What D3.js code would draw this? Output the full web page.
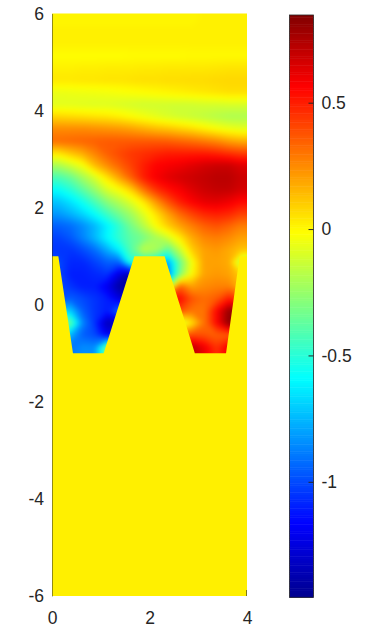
<!DOCTYPE html>
<html>
<head>
<meta charset="utf-8">
<script src="https://cdn.jsdelivr.net/npm/d3@7"></script>
<style>
  body { margin: 0; background: #fff; }
  svg { display: block; }
  text { font-family: "Liberation Sans", Arial, sans-serif; font-size: 17.5px; fill: #262626; }
</style>
</head>
<body>
<div id="chart"></div>
<script>
// field values, one row per 0.25 in y (top row y=5.875), 16 columns per 0.25 in x
// cells under the teeth just carry on from their neighbours, the teeth are painted over them
const FIELD_ROWS = [
  [.01,.01,.01,.01,.01,.01,.01,.01,.01,.01,.01,.01,.02,.02,.02,.02],
  [.02,.02,.02,.02,.02,.02,.02,.02,.02,.02,.02,.02,.02,.02,.02,.02],
  [.02,.02,.02,.02,.02,.02,.02,.02,.02,.02,.02,.02,.02,.02,.02,.02],
  [-.01,-.01,-.01,-.01,-.01,-.01,-.005,-.005,-.005,-.005,-.005,0,0,0,0,0],
  [.02,.02,.025,.025,.03,.03,.03,.035,.035,.04,.04,.04,.04,.045,.05,.05],
  [.04,.04,.045,.045,.05,.05,.055,.06,.06,.065,.065,.07,.07,.075,.08,.08],
  [-.06,-.055,-.05,-.045,-.04,-.03,-.02,-.01,0,.01,.02,.03,.04,.05,.06,.06],
  [-.08,-.08,-.085,-.09,-.09,-.1,-.11,-.12,-.12,-.12,-.12,-.12,-.11,-.11,-.1,-.1],
  [.08,.07,.06,.05,.04,.02,-.01,-.04,-.07,-.1,-.12,-.14,-.16,-.18,-.2,-.2],
  [.25,.25,.25,.24,.23,.22,.2,.17,.14,.12,.09,.06,.02,-.02,-.05,-.07],
  [.32,.33,.34,.35,.36,.36,.36,.36,.36,.35,.33,.31,.28,.25,.2,.17],
  [.05,.12,.18,.27,.35,.4,.44,.46,.48,.5,.5,.5,.5,.48,.45,.42],
  [-.2,-.12,-.03,.14,.25,.34,.42,.5,.56,.58,.6,.63,.66,.68,.68,.64],
  [-.42,-.35,-.22,-.1,.05,.2,.35,.5,.58,.63,.66,.68,.7,.72,.72,.68],
  [-.58,-.5,-.38,-.25,-.1,-.02,.1,.3,.45,.53,.58,.64,.68,.7,.7,.66],
  [-.72,-.65,-.55,-.42,-.28,-.18,-.08,.04,.22,.38,.5,.57,.62,.63,.6,.55],
  [-.82,-.76,-.68,-.58,-.45,-.33,-.22,-.08,.05,.2,.33,.42,.48,.5,.48,.42],
  [-.95,-.92,-.85,-.75,-.62,-.48,-.32,-.18,-.02,.1,.2,.28,.35,.38,.34,.28],
  [-1.02,-.97,-.87,-.75,-.6,-.48,-.38,-.32,-.22,-.12,.03,.18,.26,.28,.25,.2],
  [-1.05,-1.05,-1,-.92,-.78,-.62,-.4,-.15,-.2,-.4,-.15,.1,.2,.22,.18,.12],
  [-1,-1.08,-1.08,-1.02,-.95,-.95,-.5,-.55,-.6,-.8,-.35,-.03,.2,.2,.18,-.2],
  [-1,-1.1,-1.1,-1.08,-1.05,-1.25,-1.4,-1,-.9,-.9,-.3,0,.2,.22,.2,.1],
  [-1,-1.05,-1.1,-1.1,-1.2,-1.4,-1.4,-1.2,-.3,-.3,.35,.2,.25,.27,.27,.15],
  [-1,-.95,-1,-1.05,-1.1,-1.25,-1.3,-1,.5,.55,.55,.38,.32,.36,.5,.4],
  [-.7,-.7,-.95,-1.05,-1.1,-.9,-.9,-.9,.4,.4,.4,.3,.3,.55,.8,.8],
  [-.2,-.35,-.85,-1.05,-1.35,-1.3,-1.3,-1,0,0,-.2,.05,.3,.55,.82,.82],
  [-.7,-.75,-.95,-1,-1.2,-1.2,-1.2,-1,.3,.3,.3,.4,.38,.35,.35,.3],
  [-.9,-.9,-.85,-.85,-.3,-.3,-.3,-.3,.6,.6,.6,.72,.6,.45,.6,.5]
];

// outline of the yellow teeth, everything under it is the flat zero colour
const TOOTH_X = [0, 0.13, 0.43, 1.06, 1.69, 2.31, 2.93, 3.57, 3.85, 4, 4, 0];
const TOOTH_Y = [1, 1, -1, -1, 1, 1, -1, -1, 1, 1, -6, -6];
const TOOTH_VALUE = 0.018;

const X_TICKS = [0, 2, 4];
const Y_TICKS = [-6, -4, -2, 0, 2, 4, 6];
const BAR_TICKS = [-1, -0.5, 0, 0.5];
const BAR_LABELS = ["-1", "-0.5", "0", "0.5"];
const VALUE_MIN = -1.457;
const VALUE_MAX = 0.847;

// jet colormap stops
const JET_STOPS = ["#00008f", "#0000ff", "#0080ff", "#00ffff", "#80ff80", "#ffff00", "#ff8000", "#ff0000", "#800000"];

const FRAME_WIDTH = 365;
const FRAME_HEIGHT = 630;

const FRAME1 = d3.select("#chart")
  .append("svg")
    .attr("width", FRAME_WIDTH)
    .attr("height", FRAME_HEIGHT);

// whole pixel edges, otherwise the field shows through the antialiased tooth edge
const X_SCALE = d3.scaleLinear().domain([0, 4]).range([52, 247]);
const Y_SCALE = d3.scaleLinear().domain([-6, 6]).range([596, 13.5]);
const BAR_SCALE = d3.scaleLinear().domain([VALUE_MIN, VALUE_MAX]).range([597.3, 15]);

const COLOR = d3.scaleLinear()
  .domain(d3.range(JET_STOPS.length).map(i => VALUE_MIN + (VALUE_MAX - VALUE_MIN) * i / (JET_STOPS.length - 1)))
  .range(JET_STOPS);

// repeat the outer ring of cells so the contours don't chamfer the plot corners, clip takes it off again
const PADDED_MIDDLE = FIELD_ROWS.map(r => [r[0], ...r, r[r.length - 1]]);
const PADDED_ROWS = [PADDED_MIDDLE[0], ...PADDED_MIDDLE, PADDED_MIDDLE[PADDED_MIDDLE.length - 1]];

const N_ROWS = FIELD_ROWS.length;
const N_COLS = FIELD_ROWS[0].length;
const GRID_X = d3.scaleLinear().domain([1, N_COLS + 1]).range([X_SCALE(0), X_SCALE(4)]);
const GRID_Y = d3.scaleLinear().domain([1, N_ROWS + 1]).range([Y_SCALE(6), Y_SCALE(-1)]);

const LEVELS = d3.range(256).map(i => VALUE_MIN + (VALUE_MAX - VALUE_MIN) * i / 255);
const contours = d3.contours().size([N_COLS + 2, N_ROWS + 2]).thresholds(LEVELS)(PADDED_ROWS.flat());

const gridPath = d3.geoPath(d3.geoTransform({
  point: function(x, y) { this.stream.point(GRID_X(x), GRID_Y(y)); }
}));

const defs = FRAME1.append("defs");
defs.append("clipPath").attr("id", "plot-clip")
  .append("rect")
    .attr("x", X_SCALE(0))
    .attr("y", Y_SCALE(6))
    .attr("width", X_SCALE(4) - X_SCALE(0))
    .attr("height", Y_SCALE(-1.02) - Y_SCALE(6));

// the grid is coarse, a small blur takes the facets off the contour bands
defs.append("filter").attr("id", "soften")
    .attr("color-interpolation-filters", "sRGB")
  .append("feGaussianBlur")
    .attr("stdDeviation", 2.5);

FRAME1.append("g")
    .attr("clip-path", "url(#plot-clip)")
  .append("g")
    .attr("filter", "url(#soften)")
  .selectAll("path")
  .data(contours)
  .enter()
  .append("path")
    .attr("d", gridPath)
    .attr("fill", d => COLOR(d.value));

// teeth go over the field
const toothLine = d3.line()
  .x(d => X_SCALE(d[0]))
  .y(d => Y_SCALE(d[1]));

FRAME1.append("path")
  .attr("d", toothLine(d3.zip(TOOTH_X, TOOTH_Y)) + "Z")
  .attr("fill", COLOR(TOOTH_VALUE));

// axes, the picture covers most of them so only the left line and one tick show
const xAxis = FRAME1.append("g")
  .attr("transform", "translate(0," + Y_SCALE(-6) + ")")
  .call(d3.axisBottom(X_SCALE).tickValues(X_TICKS).tickSize(0).tickPadding(16).tickFormat(d => String(d)));
xAxis.select(".domain").remove();

const yAxis = FRAME1.append("g")
  .attr("transform", "translate(" + X_SCALE(0) + ",0)")
  .call(d3.axisLeft(Y_SCALE).tickValues(Y_TICKS).tickSize(0).tickPadding(8).tickFormat(d => String(d)));
yAxis.select(".domain").attr("stroke", "#262626").attr("stroke-opacity", 0.5);

FRAME1.append("line")
  .attr("x1", X_SCALE(4) - 0.5)
  .attr("x2", X_SCALE(4) - 0.5)
  .attr("y1", Y_SCALE(-6) - 6)
  .attr("y2", Y_SCALE(-6))
  .attr("stroke", "#262626")
  .attr("stroke-opacity", 0.6);

// colorbar
const BAR_LEFT = 289.5;
const BAR_RIGHT = 313.5;

FRAME1.append("g")
  .selectAll("rect")
  .data(d3.pairs(LEVELS))
  .enter()
  .append("rect")
    .attr("x", BAR_LEFT)
    .attr("width", BAR_RIGHT - BAR_LEFT)
    .attr("y", d => BAR_SCALE(d[1]))
    .attr("height", d => BAR_SCALE(d[0]) - BAR_SCALE(d[1]) + 0.5)
    .attr("fill", d => COLOR(d[0]));

FRAME1.append("rect")
  .attr("x", BAR_LEFT)
  .attr("y", BAR_SCALE(VALUE_MAX))
  .attr("width", BAR_RIGHT - BAR_LEFT)
  .attr("height", BAR_SCALE(VALUE_MIN) - BAR_SCALE(VALUE_MAX))
  .attr("fill", "none")
  .attr("stroke", "#262626")
  .attr("stroke-width", 0.8);

const barAxis = FRAME1.append("g")
  .attr("transform", "translate(" + BAR_RIGHT + ",0)")
  .call(d3.axisRight(BAR_SCALE).tickValues(BAR_TICKS).tickSize(-5).tickPadding(8)
    .tickFormat((d, i) => BAR_LABELS[i]));
barAxis.select(".domain").remove();
barAxis.selectAll(".tick line").attr("stroke", "#262626");

// d3 puts its own font on the axis groups, the css one should win
FRAME1.selectAll("g").attr("font-size", null).attr("font-family", null);
</script>
</body>
</html>
